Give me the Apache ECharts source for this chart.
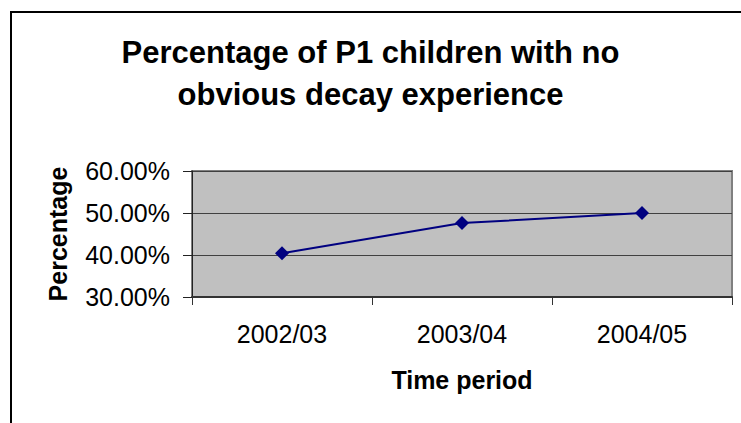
<!DOCTYPE html>
<html>
<head>
<meta charset="utf-8">
<style>
  html, body { margin: 0; padding: 0; background: #fff; }
  #chart { width: 741px; height: 423px; }
</style>
<script src="https://cdn.jsdelivr.net/npm/echarts@6/dist/echarts.min.js"></script>
</head>
<body>
<div id="chart"></div>
<script>
// chart data
const periods = ["2002/03", "2003/04", "2004/05"];
const noDecayPct = [40.4, 47.6, 50.0];
const yTicks = { min: 30, max: 60, step: 10 };

const font = "Liberation Sans, Arial, sans-serif";
const myChart = echarts.init(document.getElementById("chart"), null, { renderer: "svg" });

const option = {
  backgroundColor: "#ffffff",
  animation: false,
  title: {
    text: "Percentage of P1 children with no\nobvious decay experience",
    left: "center",
    top: 31,
    padding: [0, 0, 0, 20],
    textStyle: {
      fontFamily: font,
      fontSize: 31,
      fontWeight: "bold",
      color: "#000",
      lineHeight: 42,
    },
  },
  graphic: [
    {
      // outer chart frame
      type: "rect",
      silent: true,
      z: -1,
      shape: { x: 11, y: 12, width: 780, height: 460 },
      style: { fill: "none", stroke: "#000", lineWidth: 2 },
    },
  ],
  grid: {
    left: 192,
    right: 9,
    top: 171,
    bottom: 126,
    show: true,
    backgroundColor: "#C0C0C0",
    borderColor: "#808080",
    borderWidth: 2,
  },
  xAxis: {
    type: "category",
    data: periods,
    boundaryGap: true,
    name: "Time period",
    nameLocation: "middle",
    nameGap: 70,
    nameTextStyle: { fontFamily: font, fontSize: 25, fontWeight: "bold", color: "#000" },
    axisLine: { lineStyle: { color: "#333", width: 2 } },
    axisTick: { show: true, inside: false, length: 8, lineStyle: { color: "#333" } },
    axisLabel: { fontFamily: font, fontSize: 25, color: "#000", margin: 24 },
    splitLine: { show: false },
  },
  yAxis: {
    type: "value",
    min: yTicks.min,
    max: yTicks.max,
    interval: yTicks.step,
    name: "Percentage",
    nameLocation: "middle",
    nameGap: 122,
    nameTextStyle: { fontFamily: font, fontSize: 25, fontWeight: "bold", color: "#000" },
    axisLine: { show: true, lineStyle: { color: "#222", width: 1 } },
    axisTick: { show: true, inside: false, length: 9, lineStyle: { color: "#222" } },
    axisLabel: {
      fontFamily: font,
      fontSize: 25,
      color: "#000",
      margin: 22,
      formatter: (v) => v.toFixed(2) + "%",
    },
    splitLine: { show: true, lineStyle: { color: "#404040", width: 1 } },
  },
  series: [
    {
      type: "line",
      data: noDecayPct,
      symbol: "diamond",
      symbolSize: [14, 14],
      itemStyle: { color: "#000080" },
      lineStyle: { color: "#000080", width: 2 },
    },
  ],
};

myChart.setOption(option);
window.addEventListener("resize", () => {
  myChart.resize();
});
</script>
</body>
</html>
